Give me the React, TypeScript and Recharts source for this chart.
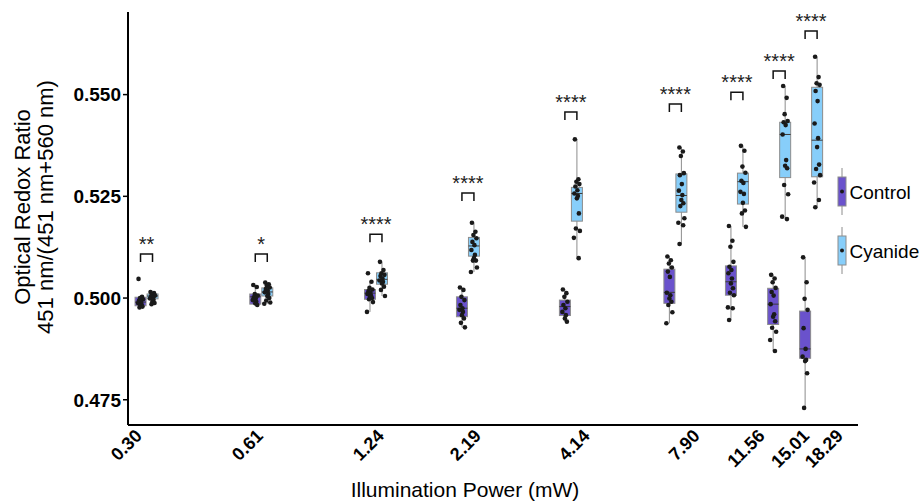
import { ComposedChart, Bar, Scatter, XAxis, YAxis, Legend } from 'recharts';

const FONT = '"Liberation Sans", Arial, sans-serif';

const powers = [0.3, 0.61, 1.24, 2.19, 4.14, 7.9, 11.56, 15.01, 18.29];
const powerLabels = ['0.30', '0.61', '1.24', '2.19', '4.14', '7.90', '11.56', '15.01', '18.29'];
const yTicks = [0.475, 0.5, 0.525, 0.55];

// significance stars and the ratio level where each bracket sits
const signif = ['**', '*', '****', '****', '****', '****', '****', '****', '****'];
const bracketLevel = [0.5108, 0.5108, 0.5157, 0.5258, 0.5457, 0.5477, 0.5506, 0.5558, 0.5656];

// box stats: [lower whisker, q1, median, q3, upper whisker]
const controlBoxes = [
  [0.4976, 0.4981, 0.499, 0.5002, 0.5006],
  [0.4982, 0.4985, 0.5003, 0.501, 0.5032],
  [0.4966, 0.4997, 0.5012, 0.5021, 0.504],
  [0.4928, 0.4954, 0.4975, 0.5003, 0.5026],
  [0.4942, 0.4957, 0.4979, 0.4995, 0.5021],
  [0.4938, 0.4987, 0.5014, 0.5071, 0.5102],
  [0.4946, 0.5007, 0.504, 0.5079, 0.5177],
  [0.487, 0.4935, 0.4985, 0.5024, 0.5057],
  [0.473, 0.4852, 0.4875, 0.4968, 0.51],
];
const cyanideBoxes = [
  [0.4985, 0.4998, 0.5005, 0.501, 0.5015],
  [0.4986, 0.5005, 0.5015, 0.5025, 0.5038],
  [0.5005, 0.5034, 0.5046, 0.5062, 0.5089],
  [0.5064, 0.5103, 0.5128, 0.5149, 0.5185],
  [0.5098, 0.5189, 0.5257, 0.5272, 0.539],
  [0.5133, 0.5211, 0.5252, 0.5305, 0.537],
  [0.5175, 0.5231, 0.5286, 0.5307, 0.5374],
  [0.5194, 0.5296, 0.5402, 0.5432, 0.5521],
  [0.5223, 0.5298, 0.5388, 0.5518, 0.5593],
];

const controlPoints = [
  [0.5047, 0.5003, 0.5, 0.4997, 0.4994, 0.4991, 0.4988, 0.4985, 0.4982, 0.4979, 0.4977],
  [0.5032, 0.5027, 0.501, 0.5006, 0.5002, 0.4999, 0.4995, 0.4991, 0.4987, 0.4983],
  [0.5061, 0.504, 0.5025, 0.5021, 0.5017, 0.5013, 0.501, 0.5006, 0.5003, 0.5, 0.4997, 0.499, 0.4966],
  [0.5026, 0.502, 0.5003, 0.4995, 0.4983, 0.4975, 0.4971, 0.4966, 0.4958, 0.495, 0.4939, 0.4928],
  [0.5021, 0.5012, 0.5003, 0.4991, 0.4983, 0.4975, 0.4966, 0.4958, 0.495, 0.4942],
  [0.5102, 0.5093, 0.5085, 0.5075, 0.5065, 0.5052, 0.5013, 0.5007, 0.4999, 0.4991, 0.4983, 0.4965, 0.4938],
  [0.5177, 0.5141, 0.5126, 0.5089, 0.5077, 0.5069, 0.5061, 0.5048, 0.5036, 0.5024, 0.5013, 0.5007, 0.4977, 0.4975, 0.4946],
  [0.5057, 0.5048, 0.5039, 0.5025, 0.5015, 0.5006, 0.4985, 0.496, 0.4954, 0.4943, 0.4927, 0.4917, 0.4897, 0.487],
  [0.51, 0.5039, 0.4998, 0.4971, 0.4926, 0.4875, 0.4856, 0.4848, 0.4845, 0.4815, 0.473],
];
const cyanidePoints = [
  [0.5015, 0.5012, 0.5009, 0.5006, 0.5004, 0.5002, 0.4999, 0.4996, 0.4992, 0.4988, 0.4985],
  [0.5038, 0.5034, 0.503, 0.5026, 0.5022, 0.5018, 0.5014, 0.501, 0.5005, 0.5, 0.4994, 0.4989, 0.4986],
  [0.5089, 0.5069, 0.5061, 0.5057, 0.5054, 0.5048, 0.5043, 0.504, 0.5036, 0.5028, 0.502, 0.5005],
  [0.5185, 0.5163, 0.5155, 0.5147, 0.5138, 0.513, 0.5118, 0.5106, 0.5098, 0.5092, 0.5092, 0.5075, 0.5064],
  [0.539, 0.5292, 0.5286, 0.528, 0.5274, 0.5265, 0.5257, 0.5251, 0.5245, 0.5208, 0.5171, 0.5165, 0.5148, 0.5098],
  [0.537, 0.536, 0.5349, 0.5307, 0.5302, 0.528, 0.5264, 0.5253, 0.5241, 0.5233, 0.5226, 0.5196, 0.5185, 0.5179, 0.5133],
  [0.5374, 0.5362, 0.5323, 0.5308, 0.5288, 0.5283, 0.5261, 0.5256, 0.5234, 0.5215, 0.5208, 0.5175],
  [0.5521, 0.5492, 0.5452, 0.5435, 0.5432, 0.5425, 0.5402, 0.5339, 0.5325, 0.5319, 0.5278, 0.5255, 0.52, 0.5194],
  [0.5593, 0.5543, 0.5528, 0.5524, 0.5509, 0.5484, 0.5429, 0.5393, 0.5371, 0.5328, 0.5317, 0.5302, 0.5284, 0.5241, 0.5223],
];

const CONTROL_FILL = '#6a52cc';
const CYANIDE_FILL = '#87cefa';
const CONTROL_DODGE = -6.5;
const CYANIDE_DODGE = 5.5;
const jitterPx = [-2, 1.5, -0.5, 2.5, -1.5, 0.5, -2.5, 1, 0, 2, -1, 3, -3, 1.8, -1.8];

const tableData = powers.map((p, i) => ({
  power: p,
  control: controlBoxes[i],
  cyanide: cyanideBoxes[i],
  controlRange: [controlBoxes[i][0], controlBoxes[i][4]],
  cyanideRange: [cyanideBoxes[i][0], cyanideBoxes[i][4]],
}));
const toPoints = (sets: number[][]) =>
  sets.flatMap((vals, i) => vals.map((v, j) => ({ power: powers[i], v, j: jitterPx[j % jitterPx.length] })));
const controlScatter = toPoints(controlPoints);
const cyanideScatter = toPoints(cyanidePoints);
const bracketData = powers.map((p, i) => ({ power: p, v: bracketLevel[i], label: signif[i] }));

// the bar covers [lower whisker, upper whisker]; the other stats are placed along it
const makeBox = (key: 'control' | 'cyanide', fill: string) => (props: any) => {
  const { x, y, width, height, payload } = props;
  const s: number[] | undefined = payload && payload[key];
  if (!s || x == null || y == null) return <g />;
  const top = Math.min(y, y + height);
  const bottom = Math.max(y, y + height);
  const py = (v: number) => bottom - ((v - s[0]) / (s[4] - s[0])) * (bottom - top);
  const cx = x + width / 2;
  return (
    <g>
      <line x1={cx} x2={cx} y1={top} y2={bottom} stroke="#8c8c8c" strokeWidth={1} />
      <rect x={x} y={py(s[3])} width={width} height={py(s[1]) - py(s[3])} fill={fill} stroke="#8c8c8c" strokeWidth={1} />
      <line x1={x} x2={x + width} y1={py(s[2])} y2={py(s[2])} stroke="#3a3a3a" strokeWidth={1} />
    </g>
  );
};

const makeDot = (dodge: number) => (props: any) => {
  const { cx, cy, payload } = props;
  if (cx == null || cy == null) return <g />;
  const j = payload && payload.j ? payload.j : 0;
  return <circle cx={cx + dodge + j} cy={cy} r={2.3} fill="#1a1a1a" />;
};

const bracketShape = (props: any) => {
  const { cx, cy, payload } = props;
  if (cx == null || cy == null) return <g />;
  const l = cx + CONTROL_DODGE;
  const r = cx + CYANIDE_DODGE;
  return (
    <g>
      <path d={`M${l},${cy + 8}V${cy}H${r}V${cy + 8}`} fill="none" stroke="#111" strokeWidth={1.5} />
      <text x={(l + r) / 2} y={cy - 3} textAnchor="middle" fontSize={20} fontFamily={FONT} fill="#222">
        {payload ? payload.label : ''}
      </text>
    </g>
  );
};

// tick labels in the reference sit on a slightly wider spread than the boxes
const XTick = (props: any) => {
  const { x, y, payload } = props;
  const i = powers.indexOf(payload ? payload.value : -1);
  const ex = x - 4 + (x - 147) * 0.055;
  const ey = y + 4;
  return (
    <text x={ex} y={ey} transform={`rotate(-45, ${ex}, ${ey})`} textAnchor="end" fontSize={18} fontWeight="bold" fontFamily={FONT} fill="#000">
      {i >= 0 ? powerLabels[i] : ''}
    </text>
  );
};

const legendItems = [
  { name: 'Control', fill: CONTROL_FILL },
  { name: 'Cyanide', fill: CYANIDE_FILL },
];

const renderLegend = () => (
  <svg width={87} height={112} style={{ display: 'block' }}>
    {legendItems.map((it, i) => {
      const o = i * 59;
      return (
        <g key={it.name}>
          <line x1={8} x2={8} y1={o + 3} y2={o + 50} stroke="#8c8c8c" />
          <rect x={4} y={o + 12} width={8} height={29} fill={it.fill} stroke="#8c8c8c" />
          <circle cx={8} cy={o + 26.5} r={2} fill="#1a1a1a" />
          <text x={15.5} y={o + 33.5} fontSize={19} fontFamily={FONT} fill="#000">
            {it.name}
          </text>
        </g>
      );
    })}
  </svg>
);

const XTitle = (p: any) => {
  const vb = p.viewBox || { x: 128, width: 730 };
  return (
    <text x={vb.x + vb.width / 2 - 28} y={497} textAnchor="middle" fontSize={21} fontFamily={FONT} fill="#000">
      Illumination Power (mW)
    </text>
  );
};

const YTitle = () => (
  <g transform="translate(0,207) rotate(-90)" fontFamily={FONT} fontSize={22} fill="#000">
    <text x={0} y={30} textAnchor="middle">Optical Redox Ratio</text>
    <text x={0} y={53} textAnchor="middle">451 nm/(451 nm+560 nm)</text>
  </g>
);

export default function App() {
  return (
    <div style={{ position: 'absolute', left: 0, top: 0, fontFamily: FONT }}>
      <ComposedChart width={921} height={501} data={tableData} margin={{ top: 12, right: 63, bottom: 0, left: 0 }} barGap={1}>
        <XAxis
          dataKey="power"
          type="number"
          scale="log"
          domain={[0.2667, 24.37]}
          allowDataOverflow
          ticks={powers}
          interval={0}
          tick={<XTick />}
          tickLine={false}
          axisLine={{ stroke: '#000', strokeWidth: 2 }}
          height={76}
          label={<XTitle />}
        />
        <YAxis
          type="number"
          domain={[0.4688, 0.5703]}
          allowDataOverflow
          ticks={yTicks}
          tickFormatter={(v: number) => v.toFixed(3)}
          tick={{ fontSize: 19, fontWeight: 'bold', fill: '#000', fontFamily: FONT }}
          tickSize={5}
          tickLine={{ stroke: '#000', strokeWidth: 1.5 }}
          axisLine={{ stroke: '#000', strokeWidth: 2 }}
          width={128}
          label={<YTitle />}
        />
        <Bar dataKey="controlRange" barSize={11} shape={makeBox('control', CONTROL_FILL)} isAnimationActive={false} legendType="none" />
        <Bar dataKey="cyanideRange" barSize={11} shape={makeBox('cyanide', CYANIDE_FILL)} isAnimationActive={false} legendType="none" />
        <Scatter data={controlScatter} dataKey="v" shape={makeDot(CONTROL_DODGE)} isAnimationActive={false} />
        <Scatter data={cyanideScatter} dataKey="v" shape={makeDot(CYANIDE_DODGE)} isAnimationActive={false} />
        <Scatter data={bracketData} dataKey="v" shape={bracketShape} isAnimationActive={false} />
        <Legend
          layout="vertical"
          align="center"
          verticalAlign="middle"
          content={renderLegend}
          wrapperStyle={{ left: 834, top: 165, width: 87, height: 112 }}
        />
      </ComposedChart>
    </div>
  );
}
